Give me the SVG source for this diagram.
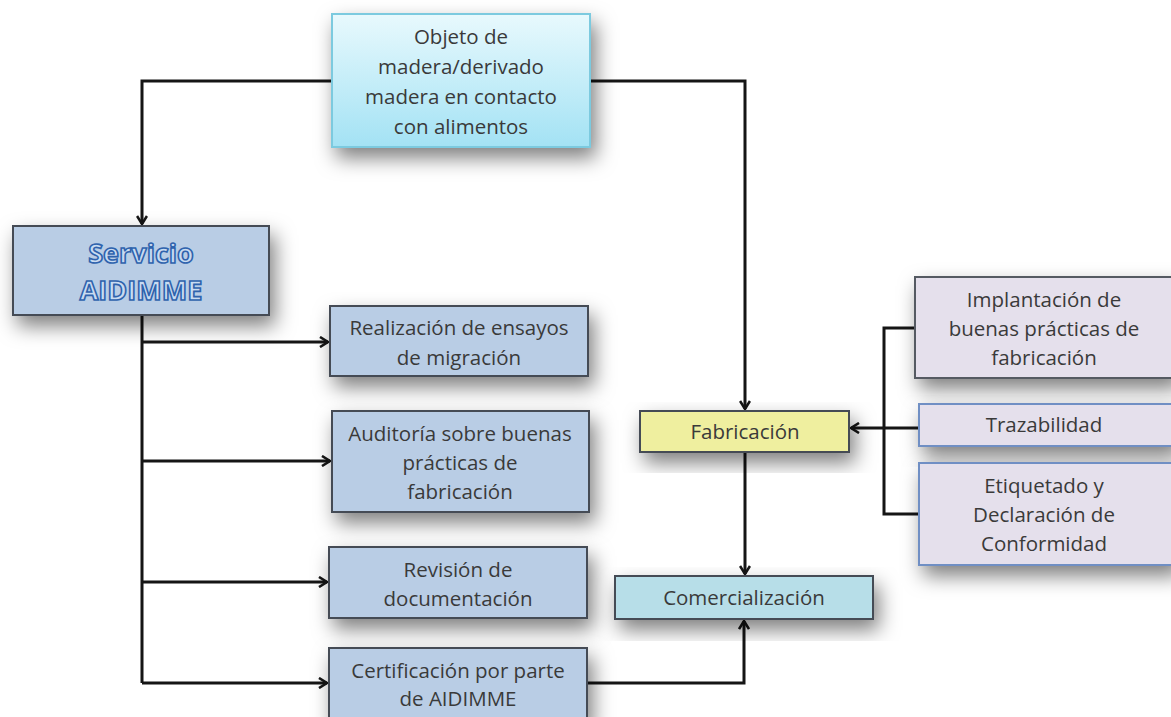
<svg xmlns="http://www.w3.org/2000/svg" width="1171" height="717" viewBox="0 0 1171 717">
<defs>
<style>
.t{font-family:"Open Sans","Liberation Sans",sans-serif;font-size:20.5px;fill:#3a3a3a;text-anchor:middle}
.blue{fill:#b9cde5;stroke:#454b55;stroke-width:2}
.lav{fill:#e5e0ec;stroke:#6f8fc4;stroke-width:2}
.lav2{fill:#e5e0ec;stroke:#555a62;stroke-width:2}
.c{fill:none;stroke:#151515;stroke-width:3}
.srv{font-family:"Open Sans","Liberation Sans",sans-serif;font-size:27px;font-weight:bold;fill:#c9dcf2;stroke:#2f63ad;stroke-width:1.6;text-anchor:middle}
</style>
<linearGradient id="g1" x1="0" y1="0" x2="0" y2="1">
<stop offset="0" stop-color="#e8f9fd"/>
<stop offset="1" stop-color="#a3e2f4"/>
</linearGradient>
<filter id="sh" x="-20%" y="-20%" width="150%" height="170%">
<feDropShadow dx="5" dy="10" stdDeviation="10" flood-color="#000" flood-opacity="0.5"/>
</filter>
<marker id="ar" viewBox="0 0 12 12" refX="10" refY="6" markerWidth="12" markerHeight="12" markerUnits="userSpaceOnUse" orient="auto">
<path d="M2,1 L10,6 L2,11" fill="none" stroke="#151515" stroke-width="2.6"/>
</marker>
</defs>
<rect width="1171" height="717" fill="#ffffff"/>

<g id="connectors">
<path class="c" d="M332,81 H142 V224" marker-end="url(#ar)"/>
<path class="c" d="M590,81 H745 V409" marker-end="url(#ar)"/>
<path class="c" d="M142,315 V683"/>
<path class="c" d="M142,342 H328" marker-end="url(#ar)"/>
<path class="c" d="M142,461 H330" marker-end="url(#ar)"/>
<path class="c" d="M142,582 H327" marker-end="url(#ar)"/>
<path class="c" d="M142,683 H327" marker-end="url(#ar)"/>
<path class="c" d="M587,683 H744 V621" marker-end="url(#ar)"/>
<path class="c" d="M745,452 V574" marker-end="url(#ar)"/>
<path class="c" d="M915,328 H884 V514 H919"/>
<path class="c" d="M919,428 H851" marker-end="url(#ar)"/>
</g>

<g id="n-objeto">
<rect x="332" y="14" width="258" height="133" fill="url(#g1)" stroke="#7ccadf" stroke-width="2" filter="url(#sh)"/>
<text class="t" x="461" y="44">Objeto de</text>
<text class="t" x="461" y="74">madera/derivado</text>
<text class="t" x="461" y="104">madera en contacto</text>
<text class="t" x="461" y="134">con alimentos</text>
</g>

<g id="n-servicio">
<rect class="blue" x="13" y="226" width="256" height="89" filter="url(#sh)"/>
<text class="srv" x="141" y="263">Servicio</text>
<text class="srv" x="141" y="300">AIDIMME</text>
</g>

<g id="n-realizacion">
<rect class="blue" x="330" y="306" width="258" height="70" filter="url(#sh)"/>
<text class="t" x="459" y="335">Realización de ensayos</text>
<text class="t" x="459" y="365">de migración</text>
</g>

<g id="n-auditoria">
<rect class="blue" x="332" y="411" width="257" height="101" filter="url(#sh)"/>
<text class="t" x="460" y="441">Auditoría sobre buenas</text>
<text class="t" x="460" y="470">prácticas de</text>
<text class="t" x="460" y="499">fabricación</text>
</g>

<g id="n-revision">
<rect class="blue" x="329" y="547" width="258" height="71" filter="url(#sh)"/>
<text class="t" x="458" y="577">Revisión de</text>
<text class="t" x="458" y="606">documentación</text>
</g>

<g id="n-certificacion">
<rect class="blue" x="329" y="648" width="258" height="75" filter="url(#sh)"/>
<text class="t" x="458" y="678">Certificación por parte</text>
<text class="t" x="458" y="706">de AIDIMME</text>
</g>

<g id="n-fabricacion">
<rect x="640" y="411" width="209" height="41" fill="#efef9f" stroke="#454b55" stroke-width="2" filter="url(#sh)"/>
<text class="t" x="745" y="439">Fabricación</text>
</g>

<g id="n-comercializacion">
<rect x="615" y="576" width="258" height="43" fill="#b7dee8" stroke="#454b55" stroke-width="2" filter="url(#sh)"/>
<text class="t" x="744" y="605">Comercialización</text>
</g>

<g id="n-implantacion">
<rect class="lav2" x="915" y="277" width="260" height="101" filter="url(#sh)"/>
<text class="t" x="1044" y="307">Implantación de</text>
<text class="t" x="1044" y="336">buenas prácticas de</text>
<text class="t" x="1044" y="365">fabricación</text>
</g>

<g id="n-trazabilidad">
<rect class="lav" x="919" y="404" width="256" height="42" filter="url(#sh)"/>
<text class="t" x="1044" y="432">Trazabilidad</text>
</g>

<g id="n-etiquetado">
<rect class="lav" x="919" y="463" width="256" height="102" filter="url(#sh)"/>
<text class="t" x="1044" y="493">Etiquetado y</text>
<text class="t" x="1044" y="522">Declaración de</text>
<text class="t" x="1044" y="551">Conformidad</text>
</g>
</svg>
